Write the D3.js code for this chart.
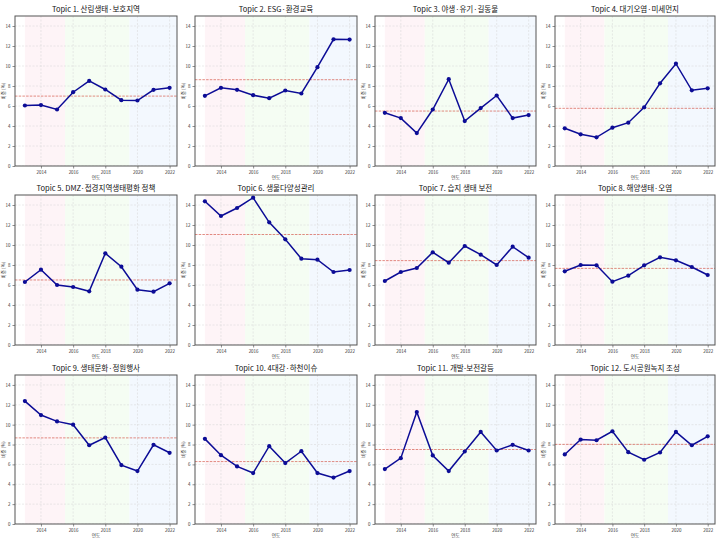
<!DOCTYPE html>
<html><head><meta charset="utf-8">
<script src="https://cdn.jsdelivr.net/npm/d3@7"></script>
<style>
body{margin:0;background:#fff;}
svg{display:block;font-family:"Noto Sans CJK KR","Noto Sans",sans-serif;}
</style></head><body>
<svg id="c" width="719" height="543"></svg>
<script>
const years = [2013,2014,2015,2016,2017,2018,2019,2020,2021,2022];
const titles = [
 "Topic 1. 산림생태·보호지역","Topic 2. ESG·환경교육","Topic 3. 야생·유기·길동물","Topic 4. 대기오염·미세먼지",
 "Topic 5. DMZ·접경지역생태평화 정책","Topic 6. 생물다양성관리","Topic 7. 습지 생태 보전","Topic 8. 해양생태·오염",
 "Topic 9. 생태문화·정원행사","Topic 10. 4대강·하천이슈","Topic 11. 개발-보전갈등","Topic 12. 도시공원녹지 조성"
];
const t1 = [6.05,6.09,5.65,7.38,8.51,7.65,6.58,6.55,7.62,7.82];
const t2 = [7.02,7.82,7.62,7.08,6.78,7.55,7.25,9.88,12.67,12.64];
const t3 = [5.32,4.79,3.29,5.65,8.68,4.49,5.79,7.05,4.79,5.09];
const t4 = [3.77,3.17,2.87,3.83,4.33,5.87,8.27,10.23,7.57,7.77];
const t5 = [6.30,7.53,6.00,5.80,5.37,9.17,7.83,5.53,5.33,6.17];
const t6 = [14.37,12.90,13.70,14.73,12.27,10.57,8.63,8.53,7.30,7.50];
const t7 = [6.40,7.30,7.70,9.27,8.23,9.90,9.03,8.00,9.83,8.73];
const t8 = [7.37,8.00,7.97,6.33,6.93,7.97,8.77,8.47,7.80,7.00];
const t9 = [12.37,10.97,10.33,10.00,7.93,8.70,5.93,5.33,7.97,7.17];
const t10 = [8.57,6.93,5.80,5.13,7.83,6.13,7.33,5.13,4.67,5.33];
const t11 = [5.53,6.63,11.27,6.90,5.33,7.30,9.27,7.40,7.97,7.40];
const t12 = [7.00,8.50,8.43,9.33,7.23,6.47,7.20,9.27,7.93,8.83];
const series = [t1,t2,t3,t4,t5,t6,t7,t8,t9,t10,t11,t12];
const xTicks = [2014,2016,2018,2020,2022];
const yTicks = [0,2,4,6,8,10,12,14];
const periods = [
 {from:2013, to:2015.5, color:"#fef4f7"},
 {from:2015.5, to:2019.5, color:"#f5fdf3"},
 {from:2019.5, to:2023, color:"#f3f8fe"}
];

const svg = d3.select("#c");
const lefts = [15,195,375,555], widths=[162,162,161,160];
const tops = [16,195,375], heights=[150,150,149];

series.forEach((vals,i)=>{
  const c = i%4, r = Math.floor(i/4);
  const L = lefts[c], T = tops[r], W = widths[c], H = heights[r];
  const x = d3.scaleLinear().domain([2012.385,2022.46]).range([0,W]);
  const y = d3.scaleLinear().domain([0,15]).range([H,0]);
  const g = svg.append("g").attr("transform",`translate(${L},${T})`);
  const clip = "clip"+i;
  g.append("clipPath").attr("id",clip).append("rect").attr("width",W).attr("height",H);
  const inner = g.append("g").attr("clip-path",`url(#${clip})`);
  inner.selectAll("rect.p").data(periods).join("rect")
    .attr("x",d=>x(d.from)).attr("width",d=>Math.min(x(d.to),W)-x(d.from))
    .attr("y",0).attr("height",H).attr("fill",d=>d.color);
  // grid
  inner.selectAll("line.gx").data(xTicks).join("line")
    .attr("x1",d=>x(d)).attr("x2",d=>x(d)).attr("y1",0).attr("y2",H)
    .attr("stroke","#d4d4d4").attr("stroke-width",0.5).attr("stroke-dasharray","2,1.5");
  inner.selectAll("line.gy").data(yTicks).join("line")
    .attr("y1",d=>y(d)).attr("y2",d=>y(d)).attr("x1",0).attr("x2",W)
    .attr("stroke","#d4d4d4").attr("stroke-width",0.5).attr("stroke-dasharray","2,1.5");
  // mean line
  const m = d3.mean(vals);
  inner.append("line").attr("x1",0).attr("x2",W).attr("y1",y(m)).attr("y2",y(m))
    .attr("stroke","#d24a3c").attr("stroke-opacity",0.8).attr("stroke-width",0.8).attr("stroke-dasharray","2.5,1.2");
  // line
  const line = d3.line().x((d,j)=>x(years[j])).y(d=>y(d));
  inner.append("path").datum(vals).attr("d",line).attr("fill","none")
    .attr("stroke","#0c0c96").attr("stroke-width",1.5);
  inner.selectAll("circle").data(vals).join("circle")
    .attr("cx",(d,j)=>x(years[j])).attr("cy",d=>y(d)).attr("r",2.1).attr("fill","#0c0c96");
  // axes
  const ax = g.append("g").attr("transform",`translate(0,${H})`)
    .call(d3.axisBottom(x).tickValues(xTicks).tickFormat(d3.format("d")).tickSize(2.5).tickPadding(2));
  const ay = g.append("g").call(d3.axisLeft(y).tickValues(yTicks).tickSize(2.5).tickPadding(2));
  [ax,ay].forEach(a=>{
    a.select(".domain").remove();
    a.selectAll("text").attr("font-size",4.5).attr("fill","#333").attr("font-family","'Noto Sans CJK KR',sans-serif");
    a.selectAll("line").attr("stroke","#444").attr("stroke-width",0.6);
  });
  g.append("rect").attr("width",W).attr("height",H).attr("fill","none")
    .attr("stroke","#555").attr("stroke-width",1);
  g.append("text").attr("x",W/2).attr("y",-4).attr("text-anchor","middle")
    .attr("font-size",7.5).attr("fill","#111").text(titles[i]);
  g.append("text").attr("x",W/2).attr("y",H+12.5).attr("text-anchor","middle")
    .attr("font-size",4.6).attr("fill","#333").text("연도");
  g.append("text").attr("transform",`translate(-10.5,${H/2}) rotate(-90)`).attr("text-anchor","middle")
    .attr("font-size",4.6).attr("fill","#333").text("비중 (%)");
});
</script>
</body></html>
